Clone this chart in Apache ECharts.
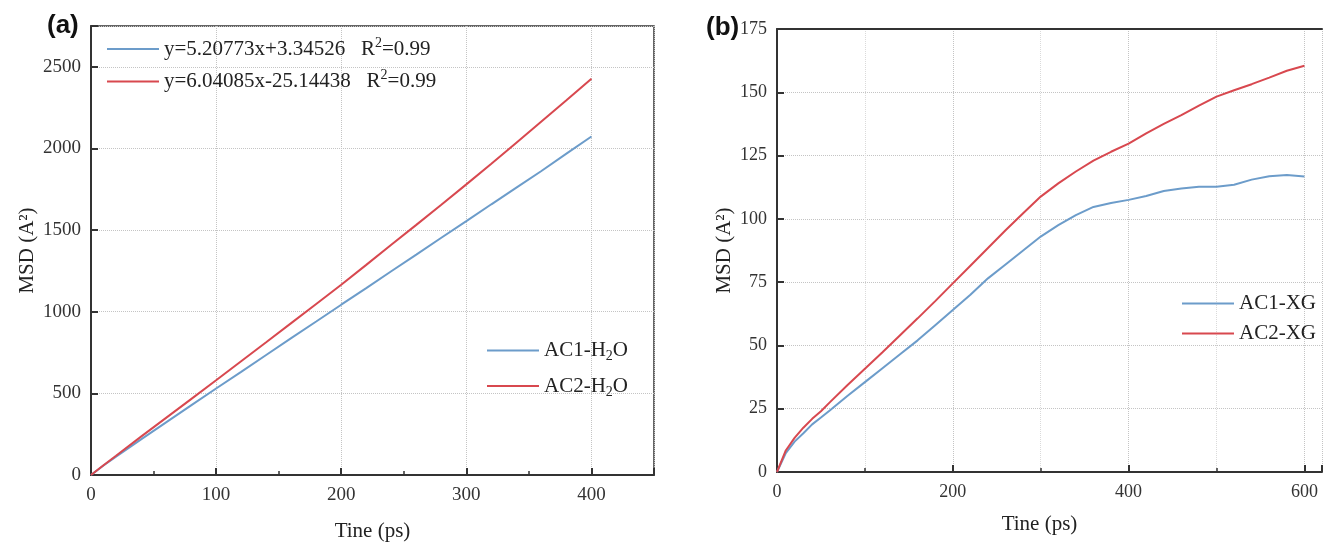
<!DOCTYPE html>
<html>
<head>
<meta charset="utf-8">
<title>MSD</title>
<script src="https://cdn.jsdelivr.net/npm/echarts@6/dist/echarts.min.js"></script>
<style>
    html, body { margin: 0; padding: 0; background: #fff; }
    #main-chart { width: 1325px; height: 547px; }
</style>
</head>
<body>
<div id="main-chart"></div>
<script>
/* (a) 水中 MSD */
var timeA = [0, 10, 20, 40, 60, 80, 100, 120, 140, 160, 180, 200, 220, 240, 260, 280, 300, 320, 340, 360, 380, 400];
var ac1H2O = [0, 58, 112, 218, 322, 426, 530, 632, 735, 838, 940, 1043, 1145, 1248, 1350, 1453, 1555, 1658, 1760, 1862, 1968, 2073];
var ac2H2O = [0, 60, 118, 235, 350, 465, 580, 697, 813, 930, 1047, 1165, 1287, 1410, 1532, 1655, 1780, 1906, 2035, 2165, 2295, 2427];
var fitLabels = ['y=5.20773x+3.34526   R{sup|2}=0.99', 'y=6.04085x-25.14438   R{sup|2}=0.99'];

/* (b) XG 中 MSD */
var timeB = [0, 10, 20, 30, 40, 50, 60, 80, 100, 120, 140, 160, 180, 200, 220, 240, 260, 280, 300, 320, 340, 360, 380, 400,
    420, 440, 460, 480, 500, 520, 540, 560, 580, 600];
var ac1XG = [0, 7.5, 12, 15.3, 18.8, 21.5, 24.3, 30, 35.5, 41, 46.5, 52, 58, 64, 70, 76.5, 82, 87.5, 93, 97.5, 101.5, 104.7, 106.3, 107.5,
    109, 111, 112, 112.7, 112.7, 113.5, 115.5, 116.8, 117.3, 116.7];
var ac2XG = [0, 8.5, 13.5, 17.5, 21, 24, 27.5, 34.3, 40.8, 47.3, 54, 60.7, 67.5, 74.5, 81.5, 88.5, 95.5, 102.2, 108.8, 114, 118.7, 123, 126.5, 129.7,
    133.8, 137.5, 141, 144.7, 148.3, 150.8, 153.2, 155.8, 158.5, 160.5];

var BLUE = '#6c9cca';
var RED = '#d8484f';
var SERIF = '"Liberation Serif", "Times New Roman", serif';

function pairs(xs, ys) {
    return xs.map(function (x, i) { return [x, ys[i]]; });
}

var dotted = { color: '#c4c4c4', type: 'dotted', width: 1 };

//坐标轴公共样式
function xAxisOf(gridIndex, max, interval, labelSize, nameGap, namePad, minorGrid) {
    return {
        gridIndex: gridIndex, type: 'value', min: 0, max: max, interval: interval,
        name: 'Tine (ps)', nameLocation: 'middle', nameGap: nameGap,
        nameTextStyle: { fontFamily: SERIF, fontSize: 21, color: '#222', padding: namePad },
        axisLine: { show: true, lineStyle: { color: '#333', width: 2 } },
        axisTick: { show: true, inside: true, length: 7, lineStyle: { color: '#333', width: 2 } },
        minorTick: { show: true, splitNumber: 2, length: 4, lineStyle: { color: '#333', width: 1.5 } },
        axisLabel: {
            fontFamily: SERIF, fontSize: labelSize, color: '#333', margin: 11,
            formatter: function (v) { return v % interval === 0 ? String(v) : ''; }
        },
        splitLine: { show: true, lineStyle: dotted },
        minorSplitLine: { show: minorGrid, lineStyle: { color: '#dadada', type: 'dotted', width: 1 } }
    };
}

function yAxisOf(gridIndex, max, interval, labelSize, nameGap) {
    return {
        gridIndex: gridIndex, type: 'value', min: 0, max: max, interval: interval,
        name: 'MSD (A²)', nameLocation: 'middle', nameGap: nameGap,
        nameTextStyle: { fontFamily: SERIF, fontSize: 21, color: '#222' },
        axisLine: { show: true, lineStyle: { color: '#333', width: 2 } },
        axisTick: { show: true, inside: true, length: 7, lineStyle: { color: '#333', width: 2 } },
        axisLabel: {
            fontFamily: SERIF, fontSize: labelSize, color: '#333', margin: 10,
            formatter: function (v) { return v % interval === 0 ? String(v) : ''; }
        },
        splitLine: { show: true, lineStyle: dotted }
    };
}

/*(b)图只有上边框，右边被裁掉*/
var topBorderB = {
    gridIndex: 1, type: 'value', min: 0, max: 620, position: 'top',
    axisLine: { show: true, onZero: false, lineStyle: { color: '#333', width: 2 } },
    axisTick: { show: false }, axisLabel: { show: false }, splitLine: { show: false }
};

function lineSeries(name, data, color, xi) {
    return {
        name: name, type: 'line', xAxisIndex: xi, yAxisIndex: xi,
        data: data, symbol: 'none', smooth: false, silent: true,
        lineStyle: { color: color, width: 2 }, itemStyle: { color: color }
    };
}

var richText = {
    sub: { fontFamily: SERIF, fontSize: 14, color: '#222', padding: [12, 0, 0, 0] },
    sup: { fontFamily: SERIF, fontSize: 14, color: '#222', padding: [0, 0, 12, 0] }
};
var legendLabels = {
    'AC1-H2O': 'AC1-H{sub|2}O',
    'AC2-H2O': 'AC2-H{sub|2}O',
    'fit1': fitLabels[0],
    'fit2': fitLabels[1]
};

function legendOf(names, left, top, gap) {
    return {
        data: names, orient: 'vertical', left: left, top: top,
        icon: 'rect', itemWidth: 52, itemHeight: 2, itemGap: gap, padding: 0,
        selectedMode: false,
        textStyle: { fontFamily: SERIF, fontSize: 21, color: '#222', rich: richText },
        formatter: function (n) { return legendLabels[n] || n; }
    };
}

var option = {
    animation: false,
    backgroundColor: '#fff',
    grid: [
        { left: 91, top: 26, width: 563, height: 453, show: true, borderColor: '#333', borderWidth: 1.5, backgroundColor: 'transparent' },
        { left: 777, top: 29, right: 0, height: 443, show: false }
    ],
    title: [
        { text: '(a)', left: 42, top: 8, textStyle: { fontFamily: '"Liberation Sans", Arial, sans-serif', fontWeight: 'bold', fontSize: 26, color: '#111' } },
        { text: '(b)', left: 701, top: 10, textStyle: { fontFamily: '"Liberation Sans", Arial, sans-serif', fontWeight: 'bold', fontSize: 26, color: '#111' } }
    ],
    legend: [
        legendOf(['fit1', 'fit2'], 107, 36, 9),
        legendOf(['AC1-H2O', 'AC2-H2O'], 487, 340, 12),
        legendOf(['AC1-XG', 'AC2-XG'], 1182, 293, 9)
    ],
    xAxis: [
        xAxisOf(0, 450, 100, 19, 46, [0, 0, 0, 0], false),
        xAxisOf(1, 620, 200, 18, 42, [0, 20, 0, 0], true),
        topBorderB
    ],
    yAxis: [
        yAxisOf(0, 2750, 500, 19, 53),
        yAxisOf(1, 175, 25, 18, 42)
    ],
    series: [
        // 拟合方程只用于图例
        lineSeries('fit1', [], BLUE, 0),
        lineSeries('fit2', [], RED, 0),
        lineSeries('AC1-H2O', pairs(timeA, ac1H2O), BLUE, 0),
        lineSeries('AC2-H2O', pairs(timeA, ac2H2O), RED, 0),
        lineSeries('AC1-XG', pairs(timeB, ac1XG), BLUE, 1),
        lineSeries('AC2-XG', pairs(timeB, ac2XG), RED, 1)
    ]
};

var myChart = echarts.init(document.getElementById('main-chart'));
myChart.setOption(option);
</script>
</body>
</html>
